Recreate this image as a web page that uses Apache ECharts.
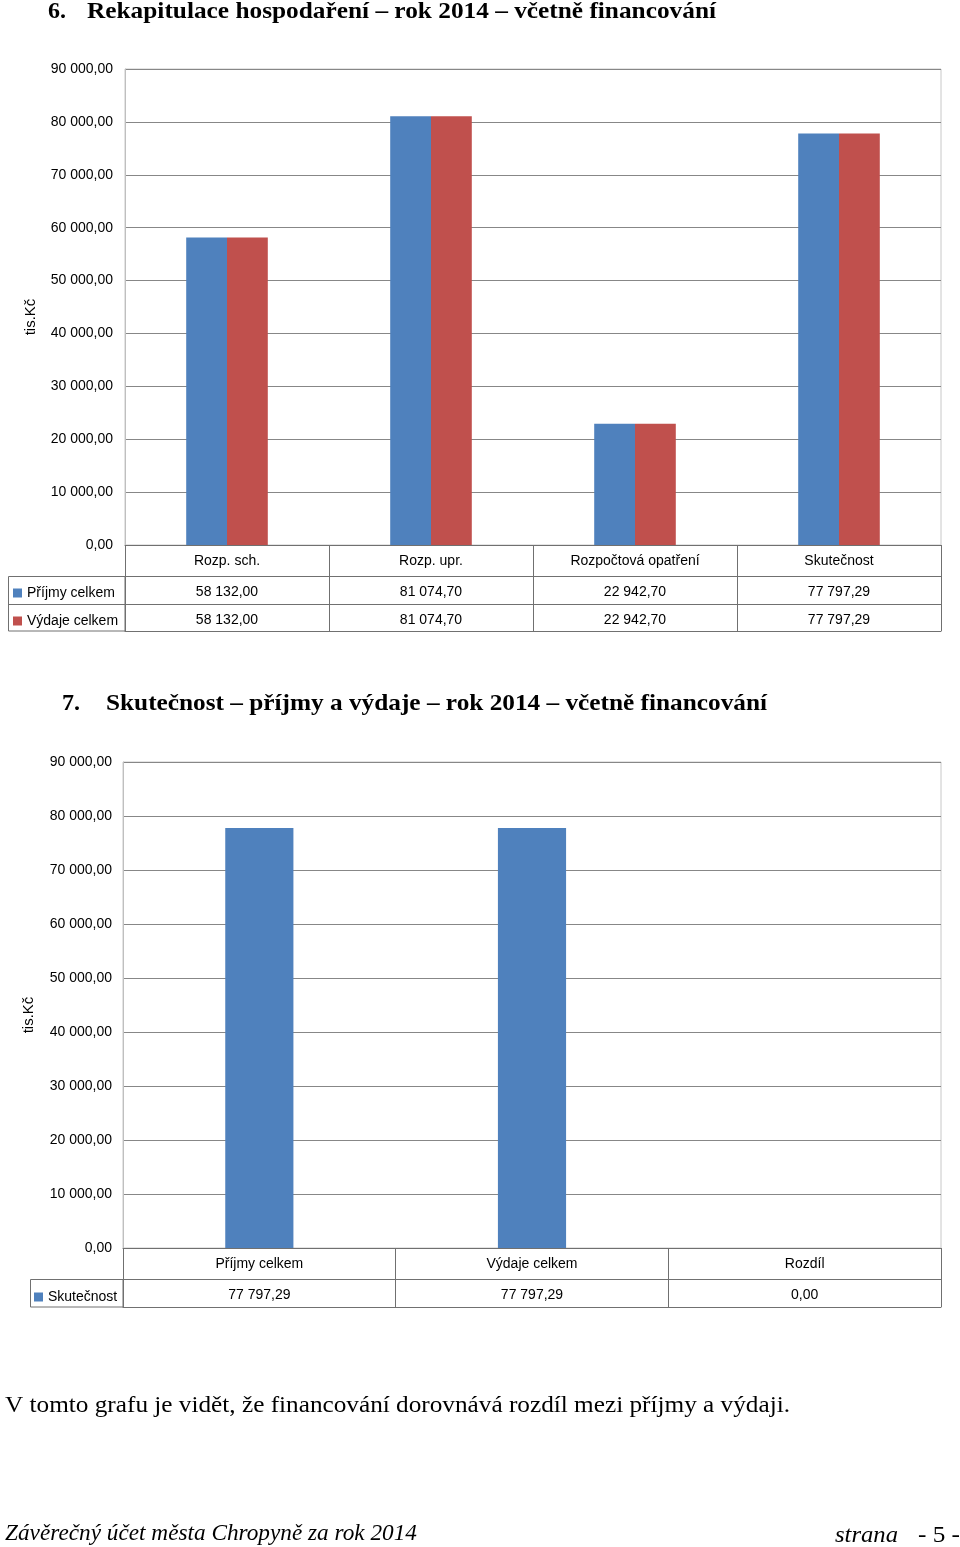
<!DOCTYPE html>
<html>
<head>
<meta charset="utf-8">
<script src="https://cdn.jsdelivr.net/npm/echarts@6/dist/echarts.min.js"></script>
<style>
  html, body { margin: 0; padding: 0; background: #fff; }
  #chart { width: 960px; height: 1547px; }
</style>
</head>
<body>
<div id="chart"></div>
<script>
// data - graf 6
const cats1 = ['Rozp. sch.', 'Rozp. upr.', 'Rozpočtová opatření', 'Skutečnost']
const prijmy1 = [58132.00, 81074.70, 22942.70, 77797.29]
const vydaje1 = [58132.00, 81074.70, 22942.70, 77797.29]

// data - graf 7
const cats2 = ['Příjmy celkem', 'Výdaje celkem', 'Rozdíl']
const skutecnost2 = [77797.29, 77797.29, 0]

const yMax = 90000
const yStep = 10000

const BLUE = '#4F81BD'
const RED = '#C0504D'
const GRID_LINE = '#878787'
const TABLE_LINE = '#707070'
const SANS = '"Liberation Sans", Arial, sans-serif'
const SERIF = '"Liberation Serif", "Times New Roman", serif'

// cesky format cisla: 81 074,70
function fmt(v) {
  const parts = Number(v).toFixed(2).split('.')
  return parts[0].replace(/\B(?=(\d{3})+(?!\d))/g, ' ') + ',' + parts[1]
}

// text roztazeny na danou sirku (scan je trochu zuzeny)
const ctx = document.createElement('canvas').getContext('2d')
function fitText(text, font, x, y, width, opts) {
  ctx.font = font
  const w = ctx.measureText(text).width
  return {
    type: 'text', x: x, y: y, scaleX: width / w,
    style: Object.assign({ text: text, font: font, fill: '#000', textAlign: 'left', textVerticalAlign: 'middle' }, opts || {})
  }
}

const labelStyle = { color: '#000', fontSize: 14, fontFamily: SANS }

function valueAxis(gridIndex, margin) {
  return {
    type: 'value', gridIndex: gridIndex, min: 0, max: yMax, interval: yStep,
    name: 'tis.Kč', nameLocation: 'middle', nameRotate: 90, nameGap: 87,
    nameTextStyle: { color: '#000', fontSize: 15, fontFamily: SANS, padding: [0, 20, 0, 0] },
    axisLine: { show: true, lineStyle: { color: '#BFBFBF' } },
    axisTick: { show: false },
    axisLabel: Object.assign({ margin: margin, formatter: fmt }, labelStyle),
    splitLine: { lineStyle: { color: GRID_LINE } }
  }
}

// radky tabulky jako dalsi osy kategorii pod grafem
function tableAxis(gridIndex, cats, offset, values, tickLen) {
  return {
    type: 'category', gridIndex: gridIndex, data: cats, position: 'bottom', offset: offset,
    axisLine: { show: true, lineStyle: { color: TABLE_LINE } },
    axisTick: tickLen ? { show: true, interval: 0, length: tickLen, lineStyle: { color: TABLE_LINE } } : { show: false },
    axisLabel: values === null ? { show: false } : Object.assign({
      interval: 0, margin: 9,
      formatter: values ? function (val, i) { return fmt(values[i]) } : null
    }, labelStyle),
    splitLine: { show: false }
  }
}

const chart = echarts.init(document.getElementById('chart'), null, { renderer: 'canvas' })

const legendText = { color: '#000', fontSize: 14, fontFamily: SANS, lineHeight: 16 }

chart.setOption({
  backgroundColor: '#fff',
  animation: false,
  grid: [
    { left: 125, right: 19, top: 69, height: 476, show: true, borderColor: '#C8C8C8', borderWidth: 1 },
    { left: 123, right: 19, top: 762, height: 486, show: true, borderColor: '#C8C8C8', borderWidth: 1 }
  ],
  xAxis: [
    tableAxis(0, cats1, 0, undefined, 86),
    tableAxis(0, cats1, 31, prijmy1),
    tableAxis(0, cats1, 59, vydaje1),
    tableAxis(0, cats1, 86, null),
    tableAxis(1, cats2, 0, undefined, 59),
    tableAxis(1, cats2, 31, skutecnost2),
    tableAxis(1, cats2, 59, null)
  ],
  yAxis: [valueAxis(0, 12), valueAxis(1, 11)],
  legend: [
    {
      orient: 'vertical', left: 13, top: 585, padding: 0, itemGap: 12, itemWidth: 9, itemHeight: 9,
      icon: 'rect', selectedMode: false, textStyle: legendText,
      data: ['Příjmy celkem', 'Výdaje celkem']
    },
    {
      orient: 'vertical', left: 34, top: 1289, padding: 0, itemWidth: 9, itemHeight: 9,
      icon: 'rect', selectedMode: false, textStyle: legendText,
      data: ['Skutečnost']
    }
  ],
  series: [
    {
      name: 'Příjmy celkem', type: 'bar', xAxisIndex: 0, yAxisIndex: 0,
      data: prijmy1, itemStyle: { color: BLUE }, barGap: '0%', barCategoryGap: '60%'
    },
    {
      name: 'Výdaje celkem', type: 'bar', xAxisIndex: 0, yAxisIndex: 0,
      data: vydaje1, itemStyle: { color: RED }, barGap: '0%', barCategoryGap: '60%'
    },
    {
      name: 'Skutečnost', type: 'bar', xAxisIndex: 4, yAxisIndex: 1,
      data: skutecnost2, itemStyle: { color: BLUE }, barCategoryGap: '75%'
    }
  ],
  graphic: [
    // nadpisy
    fitText('6.', 'bold 24px ' + SERIF, 48, 12, 18),
    fitText('Rekapitulace hospodaření – rok 2014 – včetně financování', 'bold 24px ' + SERIF, 87, 12, 629),
    fitText('7.', 'bold 24px ' + SERIF, 62, 704, 18),
    fitText('Skutečnost – příjmy a výdaje – rok 2014 – včetně financování', 'bold 24px ' + SERIF, 106, 704, 661),
    // ramecky legendy v tabulce
    { type: 'rect', shape: { x: 8.5, y: 576.5, width: 116.5, height: 54.5 }, style: { fill: 'none', stroke: TABLE_LINE, lineWidth: 1 } },
    { type: 'line', shape: { x1: 8.5, y1: 604.5, x2: 125, y2: 604.5 }, style: { stroke: TABLE_LINE, lineWidth: 1 } },
    { type: 'rect', shape: { x: 30.5, y: 1279.5, width: 92.5, height: 27.5 }, style: { fill: 'none', stroke: TABLE_LINE, lineWidth: 1 } },
    // text pod grafem
    fitText('V tomto grafu je vidět, že financování dorovnává rozdíl mezi příjmy a výdaji.', '24px ' + SERIF, 5, 1406, 785),
    fitText('Závěrečný účet města Chropyně za rok 2014', 'italic 24px ' + SERIF, 5, 1534, 412),
    fitText('strana', 'italic 24px ' + SERIF, 835, 1536, 63),
    fitText('- 5 -', '24px ' + SERIF, 918, 1536, 42)
  ]
})
</script>
</body>
</html>
